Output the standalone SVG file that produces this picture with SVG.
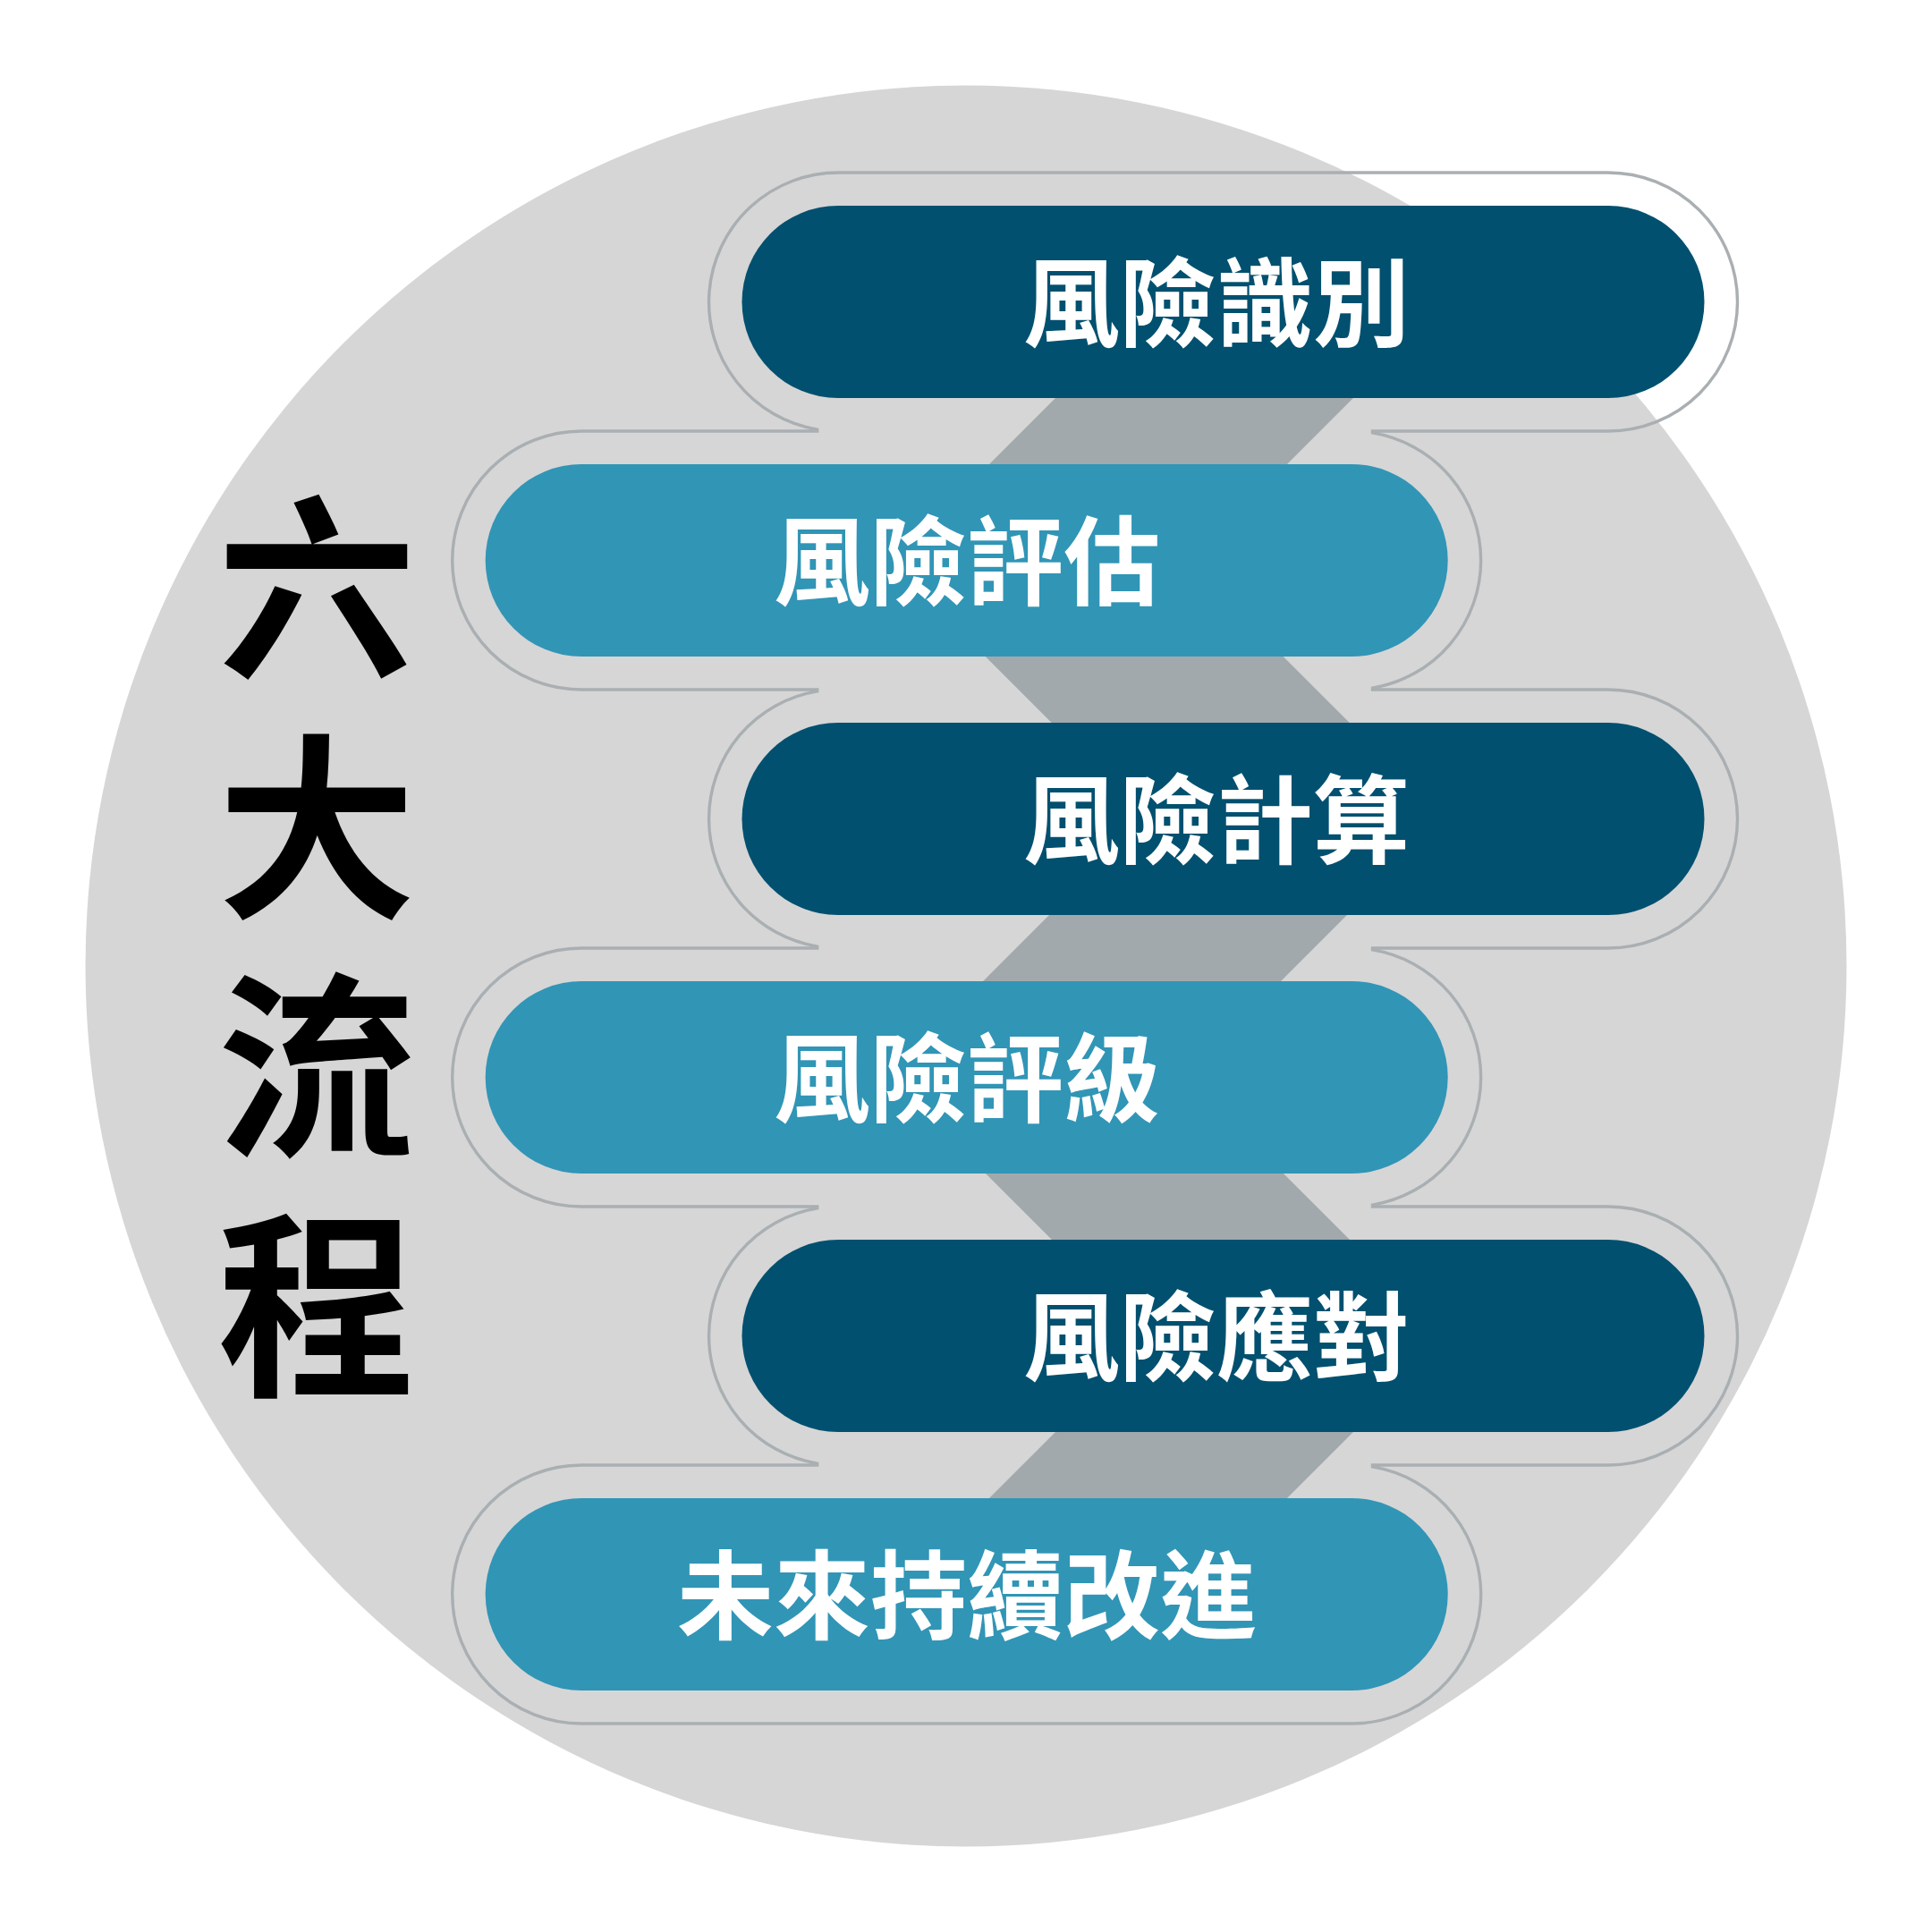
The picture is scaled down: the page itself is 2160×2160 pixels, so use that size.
<svg xmlns="http://www.w3.org/2000/svg" width="2160" height="2160" viewBox="0 0 2160 2160" xml:lang="zh-Hant" lang="zh-Hant">
  <style>
    .dark { fill: #02506F; }
    .light { fill: #3195B6; }
    .band { fill: #A2A9AC; }
    .outline { fill: none; stroke: #A9AFB2; stroke-width: 3.4; stroke-linejoin: miter; }
    .lbl { font-family: "Noto Sans CJK TC", "Noto Sans CJK SC", sans-serif; font-weight: 700; font-size: 108px; fill: #FFFFFF; text-anchor: middle; }
    .title { font-family: "Noto Sans CJK TC", "Noto Sans CJK SC", sans-serif; font-weight: 700; font-size: 222px; fill: #000000; text-anchor: middle; }
  </style>
  <rect x="0" y="0" width="2160" height="2160" fill="#FFFFFF"/>
  <circle id="backdrop" cx="1080" cy="1080" r="984.5" fill="#D6D6D6"/>

  <path id="outline" class="outline" d="M 937,193 H 1798 A 144.5 144.5 0 0 1 1798,482 H 1534.5 L 1534.5,483.9 A 144.5 144.5 0 0 1 1534.5,769.1 L 1534.5,771 H 1798 A 144.5 144.5 0 0 1 1798,1060 H 1534.5 L 1534.5,1061.9 A 144.5 144.5 0 0 1 1534.5,1347.1 L 1534.5,1349 H 1798 A 144.5 144.5 0 0 1 1798,1638 H 1534.5 L 1534.5,1639.9 A 144.5 144.5 0 0 1 1511.2,1927 H 650.2 A 144.5 144.5 0 0 1 650.2,1638 H 913.7 L 913.7,1636.1 A 144.5 144.5 0 0 1 913.7,1350.9 L 913.7,1349 H 650.2 A 144.5 144.5 0 0 1 650.2,1060 H 913.7 L 913.7,1058.1 A 144.5 144.5 0 0 1 913.7,772.9 L 913.7,771 H 650.2 A 144.5 144.5 0 0 1 650.2,482 H 913.7 L 913.7,480.1 A 144.5 144.5 0 0 1 937,193 Z"/>

  <g id="connectors">
    <polygon class="band" points="1205,420 1538,420 1414,544 1081,544"/>
    <polygon class="band" points="1076.7,709 1409.7,709 1533.4,832.7 1200.4,832.7"/>
    <polygon class="band" points="1197.7,998.3 1530.7,998.3 1407.3,1121.7 1074.3,1121.7"/>
    <polygon class="band" points="1076.7,1286.7 1409.7,1286.7 1533.7,1410.7 1200.7,1410.7"/>
    <polygon class="band" points="1205,1576 1538,1576 1414.7,1699.3 1081.7,1699.3"/>
  </g>

  <g id="step1">
    <rect class="dark" x="829.5" y="230" width="1076" height="215" rx="107.5" ry="107.5"/>
    <text class="lbl" x="1360" y="378.5">風險識別</text>
  </g>
  <g id="step2">
    <rect class="light" x="542.7" y="519" width="1076" height="215" rx="107.5" ry="107.5"/>
    <text class="lbl" x="1081" y="667.5">風險評估</text>
  </g>
  <g id="step3">
    <rect class="dark" x="829.5" y="808" width="1076" height="215" rx="107.5" ry="107.5"/>
    <text class="lbl" x="1360" y="956.5">風險計算</text>
  </g>
  <g id="step4">
    <rect class="light" x="542.7" y="1097" width="1076" height="215" rx="107.5" ry="107.5"/>
    <text class="lbl" x="1081" y="1245.5">風險評級</text>
  </g>
  <g id="step5">
    <rect class="dark" x="829.5" y="1386" width="1076" height="215" rx="107.5" ry="107.5"/>
    <text class="lbl" x="1360" y="1534.5">風險應對</text>
  </g>
  <g id="step6">
    <rect class="light" x="542.7" y="1675" width="1076" height="215" rx="107.5" ry="107.5"/>
    <text class="lbl" x="1081" y="1823.5">未來持續改進</text>
  </g>

  <g id="title">
    <text class="title"><tspan x="354" y="740.5">六</tspan><tspan x="354" y="1008.5">大</tspan><tspan x="354" y="1275.5">流</tspan><tspan x="354" y="1543">程</tspan></text>
  </g>
</svg>
